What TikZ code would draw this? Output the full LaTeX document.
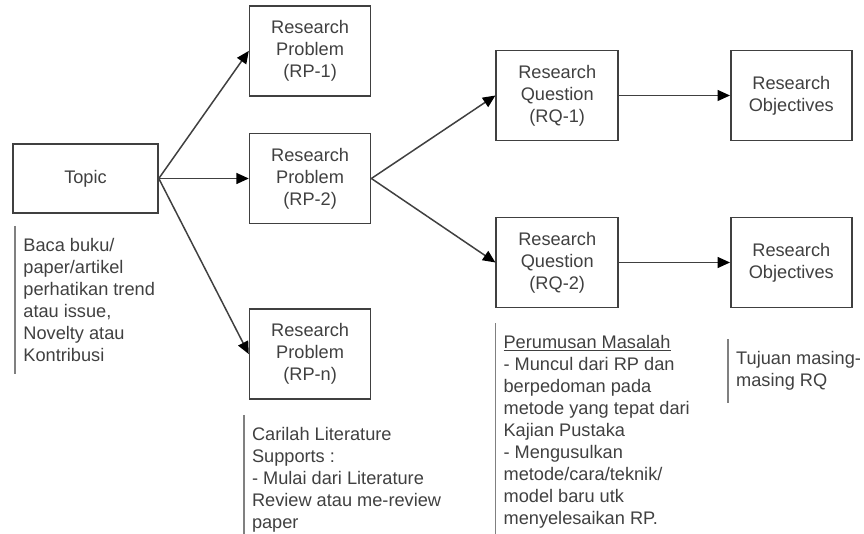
\documentclass[tikz,border=0pt]{standalone}
\usepackage{fontspec}
\setmainfont{Liberation Sans}
\usetikzlibrary{arrows.meta,positioning}

\begin{document}
\begin{tikzpicture}[
  node distance=36pt and 90pt,
  box/.style={draw=black!75, line width=1.6pt, align=center, minimum width=121pt, minimum height=90pt, inner sep=2pt, font=\fontsize{18.2}{22}\selectfont, text=black!75},
  note/.style={anchor=north west, align=left, inner xsep=8pt, inner ysep=12pt, font=\fontsize{18.2}{22}\selectfont, text=black!75},
  bar/.style={draw=black!50, line width=1.6pt},
  arrow/.style={-{Triangle[length=12.5pt,width=11pt,color=black]}, draw=black!75, line width=1.5pt}
]
\useasboundingbox (0,0) rectangle (864pt,-534pt);

\node[box, minimum width=145pt, minimum height=69pt] (topic) at (85.5pt,-178.5pt) {Topic};
\node[box, right=of topic] (rp2) {Research\\Problem\\(RP-2)};
\node[box, above=of rp2] (rp1) {Research\\Problem\\(RP-1)};
\node[box, below=84pt of rp2] (rpn) {Research\\Problem\\(RP-n)};
\node[box, minimum width=122pt, right=124pt of rp2, yshift=83pt] (rq1) {Research\\Question\\(RQ-1)};
\node[box, minimum width=122pt, right=124pt of rp2, yshift=-84pt] (rq2) {Research\\Question\\(RQ-2)};
\node[box, right=111pt of rq1] (ro1) {Research\\Objectives};
\node[box, right=111pt of rq2] (ro2) {Research\\Objectives};

\node[note] (topicnote) at ([shift={(3pt,-12pt)}]topic.south west) {Baca buku/\\paper/artikel\\perhatikan trend\\atau issue,\\Novelty atau\\Kontribusi};
\node[note] (rpnote) at ([shift={(-5pt,-15pt)}]rpn.south west) {Carilah Literature\\Supports :\\- Mulai dari Literature\\Review atau me-review\\paper};
\node[note] (rqnote) at ([shift={(0pt,-15pt)}]rq2.south west) {\underline{Perumusan Masalah}\\- Muncul dari RP dan\\berpedoman pada\\metode yang tepat dari\\Kajian Pustaka\\- Mengusulkan\\metode/cara/teknik/\\model baru utk\\menyelesaikan RP.};
\node[note] (ronote) at ([shift={(-2pt,-31pt)}]ro2.south west) {Tujuan masing-\\masing RQ};

\foreach \n in {topicnote,rpnote,rqnote,ronote}
  \draw[bar] (\n.north west) -- (\n.south west);

\draw[arrow] (topic.east) -- (rp1.west);
\draw[arrow] (topic.east) -- (rp2.west);
\draw[arrow] (topic.east) -- (rpn.west);
\draw[arrow] (rp2.east) -- (rq1.west);
\draw[arrow] (rp2.east) -- (rq2.west);
\draw[arrow] (rq1) -- (ro1);
\draw[arrow] (rq2) -- (ro2);
\end{tikzpicture}
\end{document}
